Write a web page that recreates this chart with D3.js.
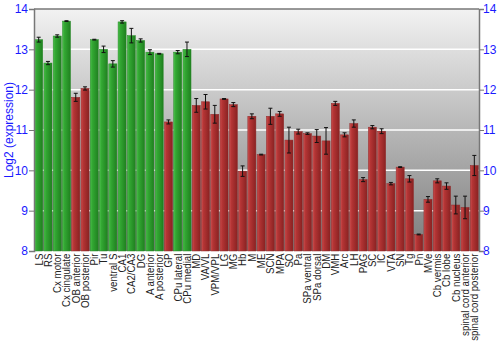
<!DOCTYPE html>
<html lang="en">
<head>
<meta charset="UTF-8">
<title>Expression</title>
<script src="https://d3js.org/d3.v7.min.js"></script>
<style>
  body { margin: 0; background: #fff; }
  text { font-family: "Liberation Sans", Arial, sans-serif; }
</style>
</head>
<body>
<svg width="500" height="350" id="grafico"></svg>
<script>

// regions, values and error bars
var regions = ["LS", "RS", "Cx motor", "Cx cingulate", "OB anterior", "OB posterior", "Pir", "Tu",
  "ventral S", "CA1", "CA2/CA3", "DG", "A anterior", "A posterior", "GP", "CPu lateral", "CPu medial",
  "MD", "VA/VL", "VPM/VPL", "LG", "MG", "Hb", "M", "ME", "SCN", "MPA", "SO", "Pa", "SPa ventral",
  "SPa dorsal", "DM", "VMH", "Arc", "LH", "PAG", "SC", "IC", "VTA", "SN", "Tg", "Pn", "MVe",
  "Cb vermis", "Cb lobe", "Cb nucleus", "spinal cord anterior", "spinal cord posterior"];

var values = [13.24, 12.66, 13.33, 13.70, 11.81, 12.03, 13.24, 13.00,
  12.64, 13.68, 13.34, 13.22, 12.93, 12.89, 11.20, 12.93, 13.00,
  11.61, 11.70, 11.39, 11.77, 11.63, 9.98, 11.34, 10.39, 11.34, 11.40, 10.75, 10.96, 10.91,
  10.85, 10.73, 11.66, 10.88, 11.16, 9.77, 11.07, 10.97, 9.67, 10.08, 9.79, 8.41, 9.28,
  9.74, 9.61, 9.14, 9.08, 10.12];

var errors = [0.06, 0.04, 0.03, 0.01, 0.10, 0.04, 0.01, 0.08,
  0.08, 0.03, 0.18, 0.04, 0.06, 0.01, 0.05, 0.04, 0.18,
  0.17, 0.18, 0.22, 0.01, 0.05, 0.13, 0.06, 0.01, 0.20, 0.06, 0.32, 0.06, 0.02,
  0.16, 0.33, 0.05, 0.05, 0.09, 0.05, 0.04, 0.06, 0.03, 0.01, 0.08, 0.01, 0.07,
  0.05, 0.08, 0.22, 0.28, 0.25];

// 1 = green group, 0 = red group
var groups = [1, 1, 1, 1, 0, 0, 1, 1, 1, 1, 1, 1, 1, 1, 0, 1, 1,
  0, 0, 0, 0, 0, 0, 0, 0, 0, 0, 0, 0, 0, 0, 0, 0, 0, 0, 0, 0, 0, 0, 0, 0, 0, 0, 0, 0, 0, 0, 0];

var yTicks = [8, 9, 10, 11, 12, 13, 14];

var data = regions.map(function (r, i) {
  return { name: r, value: values[i], err: errors[i], green: groups[i] === 1 };
});

var svg = d3.select("svg"),
  margin = { top: 9, right: 21, bottom: 99, left: 34 },
  width = +svg.attr("width") - margin.left - margin.right,
  height = +svg.attr("height") - margin.top - margin.bottom;

var x = d3.scaleBand().domain(regions).range([0, width]).paddingInner(0.13).paddingOuter(0.07);
var y = d3.scaleLinear().domain([8, 14]).range([height, 0]);

var defs = svg.append("defs");

var bg = defs.append("linearGradient").attr("id", "bg")
  .attr("x1", 0).attr("y1", 0).attr("x2", 0).attr("y2", 1);
bg.append("stop").attr("offset", "0%").attr("stop-color", "#f2f2f2");
bg.append("stop").attr("offset", "100%").attr("stop-color", "#7c7c7c");

function barGrad(id, light, mid, dark) {
  var g = defs.append("linearGradient").attr("id", id)
    .attr("x1", 0).attr("y1", 0).attr("x2", 1).attr("y2", 0);
  g.append("stop").attr("offset", "0%").attr("stop-color", light);
  g.append("stop").attr("offset", "25%").attr("stop-color", mid);
  g.append("stop").attr("offset", "100%").attr("stop-color", dark);
}
barGrad("gGreen", "#4cc04c", "#33a833", "#1f801f");
barGrad("gRed", "#cc5050", "#b53535", "#8a2222");

var g = svg.append("g")
  .attr("transform", "translate(" + margin.left + "," + margin.top + ")");

g.append("rect")
  .attr("width", width)
  .attr("height", height)
  .attr("fill", "url(#bg)");

// grid lines
g.selectAll(".grid")
  .data(yTicks.slice(1, -1))
  .enter().append("line")
  .attr("x1", 0).attr("x2", width)
  .attr("y1", function (d) { return y(d); })
  .attr("y2", function (d) { return y(d); })
  .attr("stroke", "#fff")
  .attr("stroke-width", 1.5);

// bars
g.selectAll(".bar")
  .data(data)
  .enter().append("rect")
  .attr("x", function (d) { return x(d.name); })
  .attr("width", x.bandwidth())
  .attr("y", function (d) { return y(d.value); })
  .attr("height", function (d) { return height - y(d.value); })
  .attr("fill", function (d) { return d.green ? "url(#gGreen)" : "url(#gRed)"; })
  .attr("stroke", function (d) { return d.green ? "#2a8a2a" : "#8f2a2a"; })
  .attr("stroke-width", 0.5);

// error bars
var eb = g.selectAll(".err")
  .data(data)
  .enter().append("g")
  .attr("stroke", "#111")
  .attr("stroke-width", 1);

eb.append("line")
  .attr("x1", function (d) { return x(d.name) + x.bandwidth() / 2; })
  .attr("x2", function (d) { return x(d.name) + x.bandwidth() / 2; })
  .attr("y1", function (d) { return y(d.value - d.err); })
  .attr("y2", function (d) { return y(d.value + d.err); });

[-1, 1].forEach(function (s) {
  eb.append("line")
    .attr("x1", function (d) { return x(d.name) + x.bandwidth() / 2 - 2; })
    .attr("x2", function (d) { return x(d.name) + x.bandwidth() / 2 + 2; })
    .attr("y1", function (d) { return y(d.value + s * d.err); })
    .attr("y2", function (d) { return y(d.value + s * d.err); });
});

// frame
g.append("line").attr("x1", 0).attr("x2", width).attr("y1", 0).attr("y2", 0)
  .attr("stroke", "#777").attr("stroke-width", 1.5);

var yAxisL = g.append("g").call(d3.axisLeft(y).tickValues(yTicks).tickSize(5).tickFormat(d3.format("d")));
var yAxisR = g.append("g").attr("transform", "translate(" + width + ",0)")
  .call(d3.axisRight(y).tickValues(yTicks).tickSize(5).tickFormat(d3.format("d")));

[yAxisL, yAxisR].forEach(function (a) {
  a.select(".domain").attr("stroke", "#777").attr("stroke-width", 1.5);
  a.selectAll(".tick line").attr("stroke", "#777");
  a.selectAll(".tick text").attr("fill", "#1a1aff").style("font-size", "12px")
    .style("font-family", "'Liberation Sans', Arial, sans-serif");
});
yAxisL.selectAll(".tick text").attr("x", -6);
yAxisR.selectAll(".tick text").attr("x", 4);

// x labels, a bit condensed along their length like the original
var xAxis = g.append("g").attr("transform", "translate(0," + height + ")")
  .call(d3.axisBottom(x).tickSize(0));
xAxis.select(".domain").remove();
xAxis.selectAll(".tick text")
  .attr("transform", "rotate(-90) scale(0.88,1)")
  .attr("x", -3).attr("y", 0).attr("dy", "0.35em")
  .style("text-anchor", "end")
  .attr("fill", "#222")
  .style("font-size", "11px")
  .style("font-family", "'Liberation Sans', Arial, sans-serif");

svg.append("text")
  .attr("transform", "translate(13," + (margin.top + height / 2) + ") rotate(-90)")
  .attr("text-anchor", "middle")
  .attr("fill", "#1a1aff")
  .style("font-size", "12px")
  .text("Log2 (expression)");

</script>
</body>
</html>
